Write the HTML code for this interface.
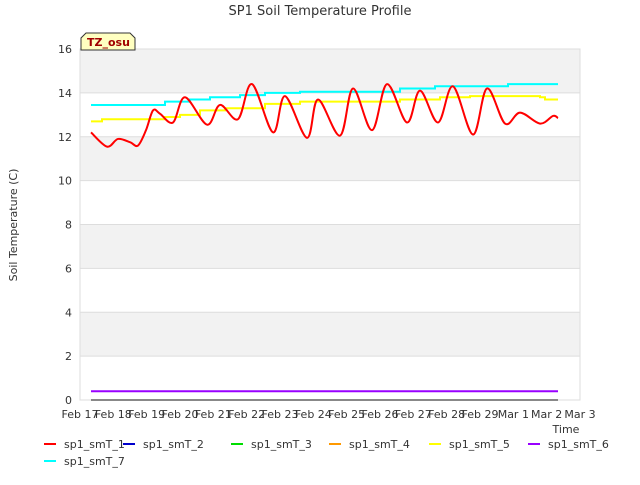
<!DOCTYPE html>
<html><head><meta charset="utf-8"><style>
body{margin:0;background:#fff;font-family:"Liberation Sans","DejaVu Sans",sans-serif}
svg text{font-family:"DejaVu Sans","Liberation Sans",sans-serif}
</style></head><body>
<svg id="chart" width="640" height="480" xmlns="http://www.w3.org/2000/svg">
<text x="320" y="15" text-anchor="middle" font-size="13" fill="#333">SP1 Soil Temperature Profile</text>
<g id="plot"></g>
<text x="17" y="225" transform="rotate(-90 17 225)" text-anchor="middle" font-size="11" fill="#333">Soil Temperature (C)</text>
<text x="566" y="433" text-anchor="middle" font-size="11" fill="#333">Time</text>
<g><path d="M81,50 L81,38 L86,33 L130,33 L135,38 L135,50 Z" fill="#ffffc0" stroke="#333"/><text x="87" y="46" font-size="11" font-weight="bold" fill="#a00000">TZ_osu</text></g>
<g id="legend"></g>
</svg>
<script>
const yTicks=[0,2,4,6,8,10,12,14,16];
const xTickLabels=["Feb 17","Feb 18","Feb 19","Feb 20","Feb 21","Feb 22","Feb 23","Feb 24","Feb 25","Feb 26","Feb 27","Feb 28","Feb 29","Mar 1","Mar 2","Mar 3"];
// times in days since Feb 17
const t1Days=[0.33,0.81,1.14,1.5,1.74,1.98,2.19,2.4,2.79,3.15,3.81,4.2,4.74,5.16,5.79,6.15,6.81,7.14,7.8,8.19,8.76,9.21,9.81,10.2,10.74,11.19,11.79,12.21,12.75,13.2,13.8,14.19,14.34];
const t1Vals=[12.2,11.55,11.9,11.75,11.6,12.3,13.2,13.05,12.65,13.8,12.55,13.45,12.8,14.4,12.2,13.85,11.95,13.7,12.05,14.2,12.3,14.4,12.65,14.1,12.65,14.3,12.1,14.2,12.6,13.1,12.6,12.95,12.85];
const tStepCyan=[0.33,2.55,3.3,3.9,4.8,5.55,6.6,9.6,10.65,12.84,14.34];
const valsCyan=[13.45,13.6,13.7,13.8,13.9,14.0,14.05,14.2,14.3,14.4,14.4];
const tStepYellow=[0.33,0.66,2.55,3.0,3.6,4.35,5.55,6.6,9.6,10.8,11.7,13.8,13.95,14.34];
const valsYellow=[12.7,12.8,12.9,13.0,13.2,13.3,13.5,13.6,13.7,13.8,13.85,13.8,13.7,13.7];
const flatT=[0.33,14.34];
const valsT6=[0.4,0.4];
const valsZero=[0,0];
const legendNames=["sp1_smT_1","sp1_smT_2","sp1_smT_3","sp1_smT_4","sp1_smT_5","sp1_smT_6","sp1_smT_7"];
const legendColors=["#ff0000","#0000cc","#00dd00","#ff9900","#ffff00","#9900ff","#00ffff"];

const NS="http://www.w3.org/2000/svg";
const X0=80,X1=580,Y0=400,Y1=49;
const xs=d=>X0+d*(X1-X0)/15;
const ys=v=>Y0-v*(Y0-Y1)/16;
const plot=document.getElementById('plot');
function mk(tag,attrs,parent){const e=document.createElementNS(NS,tag);for(const k in attrs)e.setAttribute(k,attrs[k]);parent.appendChild(e);return e;}
mk('rect',{x:X0,y:Y1,width:X1-X0,height:Y0-Y1,fill:'#fff'},plot);
for(let i=0;i<8;i++){if(i%2===1){const r=mk('rect',{x:X0,y:ys(yTicks[i+1]),width:X1-X0,height:ys(yTicks[i])-ys(yTicks[i+1]),fill:'#f2f2f2'},plot);

}}
yTicks.forEach(v=>{const l=mk('line',{x1:X0,x2:X1,y1:ys(v),y2:ys(v),stroke:'#ddd'},plot);


const t=mk('text',{x:X0-8,y:ys(v)+4,'text-anchor':'end','font-size':11,fill:'#333'},plot);t.textContent=v;

});
mk('rect',{x:X0,y:Y1,width:X1-X0,height:Y0-Y1,fill:'none',stroke:'#ddd'},plot);
xTickLabels.forEach((s,i)=>{const t=mk('text',{x:xs(i),y:Y0+18,'text-anchor':'middle','font-size':11,fill:'#333'},plot);t.textContent=s;

});
function line(ts,vs,color,step,name){let p='';for(let i=0;i<ts.length;i++){if(step&&i>0)p+=`${xs(ts[i])},${ys(vs[i-1])} `;p+=`${xs(ts[i])},${ys(vs[i])} `;}
const e=mk('polyline',{points:p,fill:'none',stroke:color,'stroke-width':2},plot);

}
function smooth(ts,vs,color,name){const P=ts.map((t,i)=>[xs(t),ys(vs[i])]);let d=`M${P[0][0]},${P[0][1]}`;
for(let i=0;i<P.length-1;i++){const p0=P[Math.max(0,i-1)],p1=P[i],p2=P[i+1],p3=P[Math.min(P.length-1,i+2)];
const c1x=p1[0]+(p2[0]-p0[0])/6,c1y=p1[1]+(p2[1]-p0[1])/6,c2x=p2[0]-(p3[0]-p1[0])/6,c2y=p2[1]-(p3[1]-p1[1])/6;
d+=` C${c1x},${c1y} ${c2x},${c2y} ${p2[0]},${p2[1]}`;}
const e=mk('path',{d:d,fill:'none',stroke:color,'stroke-width':2},plot);

}
line(flatT,valsZero,'#0000cc',false,'series-sp1-smT-2');
line(flatT,valsZero,'#00dd00',false,'series-sp1-smT-3');
line(flatT,valsZero,'#888',false,'series-sp1-smT-4');
line(flatT,valsT6,'#9900ff',false,'series-sp1-smT-6');
line(tStepYellow,valsYellow,'#ffff00',true,'series-sp1-smT-5');
line(tStepCyan,valsCyan,'#00ffff',true,'series-sp1-smT-7');
smooth(t1Days,t1Vals,'#ff0000','series-sp1-smT-1');
const lg=document.getElementById('legend');
const lx=[44,123,231,329,429,528,44],ly=[444,444,444,444,444,444,461];
legendNames.forEach((n,i)=>{const g=mk('g',{},lg);


mk('line',{x1:lx[i],x2:lx[i]+12,y1:ly[i],y2:ly[i],stroke:legendColors[i],'stroke-width':2},g);
const t=mk('text',{x:lx[i]+20,y:ly[i]+4,'font-size':11,fill:'#333'},g);t.textContent=n;});
</script>
</body></html>
